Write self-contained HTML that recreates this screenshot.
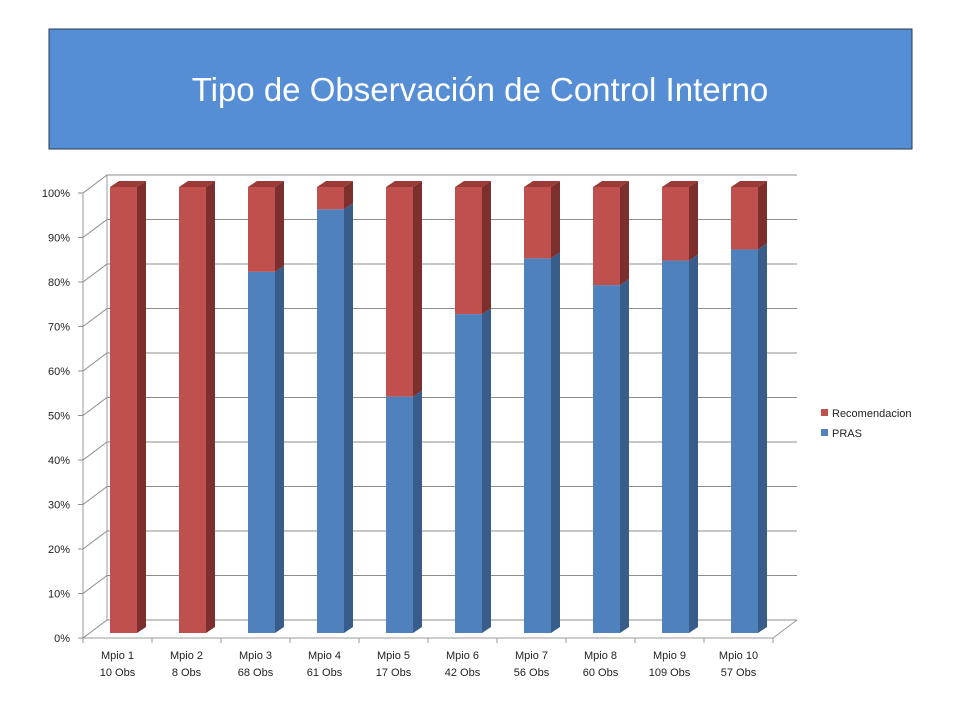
<!DOCTYPE html>
<html><head><meta charset="utf-8"><style>
body{margin:0;background:#fff;width:960px;height:720px;overflow:hidden;font-family:"Liberation Sans",sans-serif}
</style></head><body>
<svg width="960" height="720" xmlns="http://www.w3.org/2000/svg">
<rect x="49" y="29" width="863" height="120" fill="#558ed5" stroke="#2a3a4a" stroke-width="1"/>
<text x="480" y="101" text-anchor="middle" font-size="33" fill="#fff" font-family="Liberation Sans, sans-serif">Tipo de Observación de Control Interno</text>
<g id="grid"></g>
<g id="bars"></g>
<g id="labels"></g>
<g>
<rect x="821" y="409" width="7" height="7" fill="#c0504d"/>
<text x="832" y="417" font-size="11" fill="#222">Recomendacion</text>
<rect x="821" y="429" width="7" height="7" fill="#4f81bd"/>
<text x="832" y="437" font-size="11" fill="#222">PRAS</text>
</g>
</svg>
<script>
const categories=["Mpio 1","Mpio 2","Mpio 3","Mpio 4","Mpio 5","Mpio 6","Mpio 7","Mpio 8","Mpio 9","Mpio 10"];
const obsLabels=["10 Obs","8 Obs","68 Obs","61 Obs","17 Obs","42 Obs","56 Obs","60 Obs","109 Obs","57 Obs"];
const prasPct=[0,0,81,95,53,71.5,84,78,83.5,86];
const yTicks=[0,10,20,30,40,50,60,70,80,90,100];
const NS="http://www.w3.org/2000/svg";
function mk(t,a,p){const e=document.createElementNS(NS,t);for(const k in a)e.setAttribute(k,a[k]);p.appendChild(e);return e;}
const X0=83,CW=69,DX=24,DY=-18;
const yFront=v=>638-v/100*445;
const yBar=v=>633-v/100*446;
const grid=document.getElementById('grid'),bars=document.getElementById('bars'),labels=document.getElementById('labels');
// walls
const wl=mk('polyline',{points:`${X0},${yFront(100)} ${X0},${yFront(0)} ${X0+10*CW},${yFront(0)} ${X0+10*CW+DX},${yFront(0)+DY}`,fill:'none',stroke:'#999','stroke-width':1},grid);


const bw=mk('line',{x1:X0+DX,y1:yFront(100)+DY,x2:X0+DX,y2:yFront(0)+DY,stroke:'#999'},grid);


yTicks.forEach(t=>{
  const y=yFront(t);
  const g=mk('polyline',{points:`${X0-5},${y} ${X0},${y} ${X0+DX},${y+DY} ${X0+10*CW+DX},${y+DY}`,fill:'none',stroke:'#8c8c8c','stroke-width':1},grid);
  
  
  const tx=mk('text',{x:X0-13,y:y+4,'text-anchor':'end','font-size':11,fill:'#222'},labels);
  tx.textContent=t+'%';
  
  
});
for(let i=0;i<=10;i++){
  const tk=mk('line',{x1:X0+i*CW,y1:yFront(0),x2:X0+i*CW,y2:yFront(0)+5,stroke:'#999'},grid);
  
  
}
function seg(x,v0,v1,face,side,top,name,withTop){
  const w=27,d=9,r=6;
  const y0=yBar(v0),y1=yBar(v1);
  const f=mk('rect',{x:x,y:y1,width:w,height:y0-y1,fill:face},bars);
  
  
  const s=mk('polygon',{points:`${x+w},${y1} ${x+w+d},${y1-r} ${x+w+d},${y0-r} ${x+w},${y0}`,fill:side},bars);
  
  
  if(withTop){
    const t=mk('polygon',{points:`${x},${y1} ${x+d},${y1-r} ${x+w+d},${y1-r} ${x+w},${y1}`,fill:top},bars);
    
    
  }
}
categories.forEach((c,i)=>{
  const x=X0+i*CW+27;
  const p=prasPct[i];
  if(p>0) seg(x,0,p,'#4f81bd','#385d8a','#6a93c8','bar-pras-'+(i+1),false);
  if(p<100) seg(x,p,100,'#c0504d','#7d2f2d','#9b3a37','bar-recomendacion-'+(i+1),true);
  const cx=X0+i*CW+CW/2;
  const t1=mk('text',{x:cx,y:659,'text-anchor':'middle','font-size':11,fill:'#222'},labels);
  t1.textContent=c;
  
  
  const t2=mk('text',{x:cx,y:676,'text-anchor':'middle','font-size':11,fill:'#222'},labels);
  t2.textContent=obsLabels[i];
  
  
});
</script>
</body></html>
